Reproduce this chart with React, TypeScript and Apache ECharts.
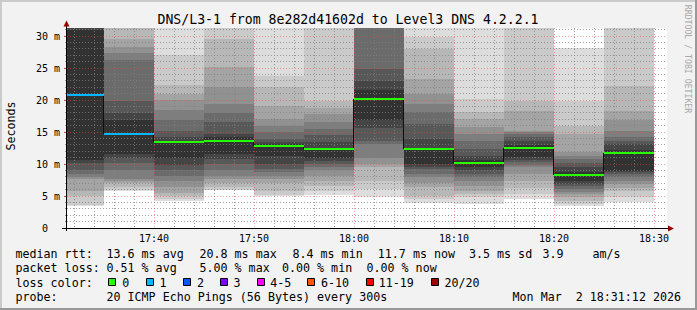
import { useEffect, useRef } from 'react';
import * as echarts from 'echarts';

// ---------- texts ----------
const chartTitle = 'DNS/L3-1 from 8e282d41602d to Level3 DNS 4.2.2.1';
const yAxisTitle = 'Seconds';
const credit = 'RRDTOOL / TOBI OETIKER';

// ---------- data ----------
// each column covers the 300 s that end at the given time
const columnEnds = ['17:35', '17:40', '17:45', '17:50', '17:55', '18:00', '18:05', '18:10', '18:15', '18:20', '18:25', '18:30'];
const medianMs = [20.8, 14.7, 13.4, 13.6, 12.8, 12.3, 20.2, 12.3, 10.2, 12.5, 8.3, 11.7];
const lostPings = [1, 1, 0, 0, 0, 0, 0, 0, 0, 0, 0, 0];

// 20 sorted ping RTTs (ms) per column
const pings1735 = [3.5, 3.6, 5.0, 5.8, 7.6, 7.9, 8.4, 9.0, 10.1, 10.6, 31.0, 31.6, 32.2, 33.0, 33.8, 34.5, 35.2, 36.0, 37.5, 39.0];
const pings1740 = [5.8, 5.9, 6.35, 7.0, 7.3, 7.65, 9.0, 10.1, 10.9, 11.5, 16.9, 17.9, 19.9, 26.2, 27.3, 28.3, 29.5, 31.3, 32.0, 33.0];
const pings1745 = [4.2, 4.5, 5.0, 5.5, 6.4, 7.4, 8.2, 9.1, 9.9, 11.0, 13.6, 14.2, 15.2, 16.8, 18.4, 20.0, 21.0, 22.4, 27.1, 33.0];
const pings1750 = [5.9, 6.0, 6.4, 7.0, 7.6, 8.2, 9.0, 10.0, 10.8, 11.6, 14.2, 14.7, 16.5, 17.9, 19.4, 22.0, 25.1, 29.5, 31.3, 33.0];
const pings1755 = [4.95, 5.2, 5.8, 7.1, 7.6, 8.2, 8.7, 9.2, 10.0, 11.3, 13.1, 13.5, 13.9, 14.95, 16.0, 17.0, 19.1, 22.0, 23.8, 33.0];
const pings1800 = [5.2, 5.8, 6.6, 7.4, 8.2, 9.0, 9.5, 10.0, 10.5, 11.0, 12.5, 13.4, 14.5, 15.5, 16.5, 17.8, 18.8, 19.9, 32.0, 34.0];
const pings1805 = [4.8, 6.1, 7.4, 9.5, 10.0, 11.0, 13.1, 13.65, 15.7, 16.8, 21.5, 23.0, 24.8, 32.0, 33.0, 34.0, 35.0, 36.0, 37.0, 38.0];
const pings1810 = [3.9, 4.5, 5.05, 6.35, 7.0, 7.9, 8.5, 9.2, 9.6, 10.0, 12.5, 13.9, 16.25, 18.07, 19.4, 21.0, 23.3, 28.0, 29.8, 33.0];
const pings1815 = [3.75, 4.79, 5.3, 5.83, 6.6, 7.4, 7.9, 8.44, 9.0, 9.5, 10.6, 11.3, 12.35, 13.65, 14.7, 15.73, 17.0, 18.07, 20.16, 33.0];
const pings1820 = [4.53, 5.3, 6.3, 7.4, 8.4, 9.48, 9.9, 10.26, 10.6, 11.04, 13.0, 13.6, 14.17, 14.7, 15.0, 15.2, 18.33, 19.9, 32.0, 34.0];
const pings1825 = [3.49, 3.8, 4.27, 4.9, 5.3, 5.7, 6.1, 6.5, 6.9, 7.4, 8.8, 9.48, 10.1, 10.78, 11.3, 11.82, 14.7, 16.0, 19.9, 28.1];
const pings1830 = [4.0, 4.8, 5.83, 6.3, 6.875, 7.4, 7.92, 8.44, 8.7, 8.96, 12.2, 13.1, 13.6, 14.17, 15.2, 16.8, 18.33, 22.24, 33.0, 34.0];
const columnPings = [pings1735, pings1740, pings1745, pings1750, pings1755, pings1800, pings1805, pings1810, pings1815, pings1820, pings1825, pings1830];

// loss colour classes
const lossLabels = ['0', '1', '2', '3', '4-5', '6-10', '11-19', '20/20'];
const lossColors = ['#26ff00', '#00b8ff', '#0059ff', '#7e00ff', '#ff00ff', '#ff5500', '#ff0000', '#a10000'];
const lossFrom = [0, 1, 2, 3, 4, 6, 11, 20];

// axis tick labels
const xTickLabels = ['17:40', '17:50', '18:00', '18:10', '18:20', '18:30'];
const yUnit = 'm';

// legend texts
const statsRow = ['median rtt:', '13.6 ms avg', '20.8 ms max', '8.4 ms min', '11.7 ms now', '3.5 ms sd', '3.9', 'am/s'];
const lossRow = ['packet loss:', '0.51 % avg', '5.00 % max', '0.00 % min', '0.00 % now'];
const lossColorTitle = 'loss color:';
const probeRow = ['probe:', '20 ICMP Echo Pings (56 Bytes) every 300s'];
const stamp = 'Mon Mar  2 18:31:12 2026';

// ---------- helpers ----------
const sec = (s: string) => {
  const [h, m, x] = s.split(':').map(Number);
  return h * 3600 + m * 60 + (x || 0);
};
const hhmm = (t: number) => {
  const h = Math.floor(t / 3600);
  const m = Math.floor((t % 3600) / 60);
  return `${String(h).padStart(2, '0')}:${String(m).padStart(2, '0')}`;
};

const STEP = 300;
const X_MIN = sec('17:31:18');
const X_MAX = X_MIN + 3600;
const Y_MAX = 31.25;

const PLOT = { left: 67, top: 28, width: 600, height: 200 };
const MONO = '"DejaVu Sans Mono", monospace';
const MINOR = 'rgba(128,128,128,0.75)';
const MAJOR = 'rgba(235,70,70,0.5)';

const lossIndex = (n: number) => {
  let i = 0;
  lossFrom.forEach((f, k) => { if (n >= f) i = k; });
  return i;
};

export default function App() {
  const ref = useRef<HTMLDivElement>(null);

  useEffect(() => {
    if (!ref.current) return;
    const chart = echarts.init(ref.current, undefined, { renderer: 'svg' });

    // smoke bands: band k spans ping k .. ping (21-k)
    const smokeData: number[][] = [];
    for (let k = 1; k <= 10; k++) {
      columnEnds.forEach((ce, c) => {
        const end = sec(ce);
        const p = columnPings[c];
        smokeData.push([end - STEP, end, p[k - 1], p[20 - k], k]);
      });
    }

    const medianData = columnEnds.map((ce, c) => {
      const end = sec(ce);
      return [end - STEP, end, medianMs[c], lossIndex(lostPings[c]), c + 1 < medianMs.length ? medianMs[c + 1] : -1];
    });

    const gridData: number[][] = [];
    for (let v = 1; v < Y_MAX; v++) gridData.push([0, v, v % 5 === 0 ? 1 : 0]);
    for (let t = Math.ceil(X_MIN / 120) * 120; t <= X_MAX; t += 120) gridData.push([1, t, t % 600 === 0 ? 1 : 0]);

    const txt = (text: string, x: number, y: number, size: number, extra: any = {}) => ({
      type: 'text',
      silent: true,
      x: extra.px ?? 0,
      y: extra.py ?? 0,
      rotation: extra.rotation ?? 0,
      style: {
        text,
        x,
        y,
        font: `${size}px ${MONO}`,
        fill: extra.fill ?? '#000',
        textAlign: extra.align ?? 'left',
        align: extra.align ?? 'left',
        textVerticalAlign: 'middle',
        verticalAlign: 'middle',
      },
      z: 100,
    });

    const rowY = [254.3, 268.3, 282.5, 296.7];
    const statsX = [15.5, 106.5, 199.5, 292.5, 377.8, 469, 542.5, 592.5];
    const lossX = [15.5, 106.5, 199.5, 282, 366.5];
    const squareX = [108, 146, 183, 220, 257, 307, 366, 431];
    const squareLabelX = [122.2, 159.6, 197, 233.6, 270.2, 321, 378.8, 444.4];

    const graphic: any[] = [
      // border shading
      { type: 'rect', silent: true, shape: { x: 0, y: 0, width: 697, height: 2 }, style: { fill: '#cbcbcb' }, z: 100 },
      { type: 'rect', silent: true, shape: { x: 0, y: 0, width: 2, height: 310 }, style: { fill: '#cbcbcb' }, z: 100 },
      { type: 'rect', silent: true, shape: { x: 0, y: 308, width: 697, height: 2 }, style: { fill: '#999999' }, z: 100 },
      { type: 'rect', silent: true, shape: { x: 695, y: 0, width: 2, height: 310 }, style: { fill: '#999999' }, z: 100 },
      txt(chartTitle, 348, 19.5, 13.2, { align: 'center' }),
      { ...txt(yAxisTitle, 0, 0, 11.66, { align: 'center', px: 10.5, py: 126, rotation: Math.PI / 2 }) },
      { ...txt(credit, 0, 0, 8.2, { align: 'center', px: 687.5, py: 59, rotation: -Math.PI / 2, fill: '#a8a8a8' }) },
      // axes
      { type: 'line', silent: true, shape: { x1: 62, y1: 228.5, x2: 669, y2: 228.5 }, style: { stroke: '#000', lineWidth: 1 }, z: 90 },
      { type: 'line', silent: true, shape: { x1: 66.5, y1: 231, x2: 66.5, y2: 25 }, style: { stroke: '#000', lineWidth: 1 }, z: 90 },
      { type: 'polygon', silent: true, shape: { points: [[63.5, 26.5], [69.5, 26.5], [66.5, 20.5]] }, style: { fill: '#990000' }, z: 91 },
      { type: 'polygon', silent: true, shape: { points: [[668, 225.5], [668, 231.5], [674, 228.5]] }, style: { fill: '#990000' }, z: 91 },
    ];

    statsRow.forEach((s, i) => graphic.push(txt(s, statsX[i], rowY[0], 11.66)));
    lossRow.forEach((s, i) => graphic.push(txt(s, lossX[i], rowY[1], 11.66)));
    graphic.push(txt(lossColorTitle, 15.5, rowY[2], 11.66));
    lossLabels.forEach((s, i) => {
      graphic.push({
        type: 'rect', silent: true,
        shape: { x: squareX[i] + 0.5, y: 278.5, width: 7, height: 7 },
        style: { fill: lossColors[i], stroke: '#000', lineWidth: 1 }, z: 100,
      });
      graphic.push(txt(s, squareLabelX[i], rowY[2], 11.66));
    });
    graphic.push(txt(probeRow[0], 15.5, rowY[3], 11.66));
    graphic.push(txt(probeRow[1], 106.5, rowY[3], 11.66));
    graphic.push(txt(stamp, 681, rowY[3], 11.66, { align: 'right' }));

    chart.setOption({
      animation: false,
      backgroundColor: '#f2f2f2',
      grid: { ...PLOT, show: true, backgroundColor: '#ffffff', borderWidth: 0, containLabel: false },
      xAxis: {
        type: 'value', min: X_MIN, max: X_MAX,
        axisLine: { show: false }, axisTick: { show: false }, splitLine: { show: false },
        axisLabel: {
          customValues: xTickLabels.map(sec),
          formatter: (v: number) => hhmm(v),
          color: '#000', fontFamily: MONO, fontSize: 10, margin: 5,
        },
      },
      yAxis: {
        type: 'value', min: 0, max: Y_MAX, interval: 5,
        axisLine: { show: false }, axisTick: { show: false }, splitLine: { show: false },
        axisLabel: {
          formatter: (v: number) => (Math.abs(v % 5) > 1e-9 ? '' : v === 0 ? '{z|0}' : `${v} ${yUnit}`),
          showMinLabel: true,
          showMaxLabel: true,
          hideOverlap: false,
          color: '#000', fontFamily: MONO, fontSize: 10, margin: 7,
          rich: { z: { padding: [0, 12, 0, 0], color: '#000', fontFamily: MONO, fontSize: 10 } },
        },
      },
      series: [
        {
          type: 'custom', name: 'smoke', z: 2, silent: true,
          encode: { x: [0, 1], y: [2, 3] },
          data: smokeData,
          renderItem: (_p: any, api: any) => {
            const t0 = Math.max(api.value(0), X_MIN);
            const t1 = Math.min(api.value(1), X_MAX);
            const lo = Math.max(api.value(2), 0);
            const hi = Math.min(api.value(3), Y_MAX);
            const k = api.value(4);
            if (t1 <= t0 || hi <= lo) return { type: 'group', children: [] };
            const a = api.coord([t0, hi]);
            const b = api.coord([t1, lo]);
            const x0 = Math.round(a[0]), x1 = Math.round(b[0]);
            const y0 = Math.round(a[1]), y1 = Math.round(b[1]);
            const g = 19 * (10 - k) + 50;
            return {
              type: 'rect',
              shape: { x: x0, y: y0, width: x1 - x0, height: y1 - y0 },
              style: { fill: `rgb(${g},${g},${g})` },
            };
          },
        },
        {
          type: 'custom', name: 'grid', z: 3, silent: true,
          data: gridData,
          renderItem: (_p: any, api: any) => {
            const o = api.value(0), v = api.value(1), major = api.value(2) === 1;
            const stroke = major ? MAJOR : MINOR;
            if (o === 0) {
              const y = Math.floor(api.coord([X_MIN, v])[1]) + 0.5;
              const x0 = api.coord([X_MIN, v])[0];
              const x1 = api.coord([X_MAX, v])[0];
              return {
                type: 'group', children: [
                  { type: 'line', shape: { x1: x0, y1: y, x2: x1, y2: y }, style: { stroke, lineWidth: 1, lineDash: [1, 2] } },
                  { type: 'line', shape: { x1: x0 - (major ? 3 : 2), y1: y, x2: x0, y2: y }, style: { stroke: major ? '#d04040' : '#909090', lineWidth: 1 } },
                ],
              };
            }
            const x = Math.floor(api.coord([v, 0])[0]) + 0.5;
            const y0 = api.coord([v, Y_MAX])[1];
            const y1 = api.coord([v, 0])[1];
            return {
              type: 'line', shape: { x1: x, y1: y0, x2: x, y2: y1 },
              style: { stroke, lineWidth: 1, lineDash: [1, 2] },
            };
          },
        },
        {
          type: 'custom', name: 'median', z: 4, silent: true,
          encode: { x: [0, 1], y: 2 },
          data: medianData,
          renderItem: (_p: any, api: any) => {
            const t0 = Math.max(api.value(0), X_MIN), t1 = api.value(1);
            const m = api.value(2);
            const a = api.coord([t0, m]), b = api.coord([t1, m]);
            const y = Math.round(a[1]);
            const children: any[] = [];
            const next = api.value(4);
            if (next >= 0) {
              const yn = Math.round(api.coord([t1, next])[1]);
              const xv = Math.round(b[0]) - 0.5;
              children.push({ type: 'line', shape: { x1: xv, y1: y, x2: xv, y2: yn }, style: { stroke: '#101010', lineWidth: 1 } });
            }
            children.push({
              type: 'line',
              shape: { x1: Math.round(a[0]), y1: y, x2: Math.round(b[0]), y2: y },
              style: { stroke: lossColors[api.value(3)], lineWidth: 2 },
            });
            return { type: 'group', children };
          },
        },
      ],
      graphic,
    });

    return () => chart.dispose();
  }, []);

  return <div ref={ref} style={{ position: 'fixed', left: 0, top: 0, width: 697, height: 310 }} />;
}
